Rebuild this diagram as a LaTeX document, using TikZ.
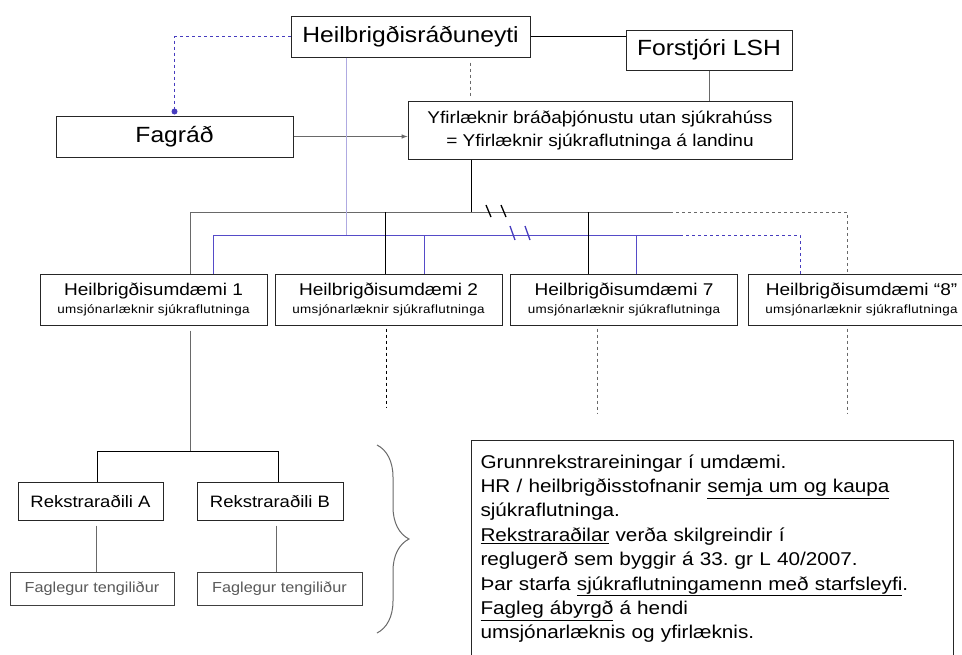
\documentclass[tikz,border=0pt]{standalone}
\usepackage{fontspec}
\setmainfont{Liberation Sans}[FakeStretch=1.12]
\usepackage{tikz}
\usetikzlibrary{positioning}
\usetikzlibrary{calc,arrows.meta,decorations.pathreplacing}
\definecolor{lavcol}{RGB}{175,170,225}
\definecolor{bluecol}{RGB}{85,75,200}
\definecolor{dashcol}{RGB}{70,60,190}
\definecolor{graycol}{RGB}{105,105,105}
\newcommand{\fsz}[2]{\fontsize{#1}{#2}\selectfont}
\newcommand{\undl}[1]{\underline{#1}}
\newcommand{\subtl}[1]{\fsz{12}{14}\addfontfeature{LetterSpace=3}#1}
\tikzset{>=latex}
\frenchspacing

\begin{document}
\begin{tikzpicture}[x=1pt, y=-1pt, line width=1pt,
    box/.style={draw=black!85, align=center, inner sep=0pt},
    distbox/.style={box, minimum width=227pt, minimum height=51pt},
    opbox/.style={box, minimum width=145pt, minimum height=38pt, font=\fsz{16.5}{19}},
    tenbox/.style={box, draw=black!75, text=black!65, minimum width=164pt, minimum height=33pt, font=\fsz{14.5}{17}}]
        \fill[white] (0,0) rectangle (962,654);
        \useasboundingbox (0,0) rectangle (962,654);

        % 1. Ministry, hospital director and the advisory board
        \node[box, minimum width=239pt, minimum height=41pt, font=\fsz{22}{26}] (heil) at (410.5,36.5) {Heilbrigðisráðuneyti};
        \node[box, minimum width=166pt, minimum height=40pt, font=\fsz{22}{26}] (fors) at (709,50) {Forstjóri LSH};
        \node[box, minimum width=237pt, minimum height=41pt, font=\fsz{22}{26}] (fag) at (174.5,136.5) {Fagráð};
        \node[box, minimum width=384pt, minimum height=58pt, font=\fsz{17}{23}] (yfir) at (600,130)
            {Yfirlæknir bráðaþjónustu utan sjúkrahúss\\ = Yfirlæknir sjúkraflutninga á landinu};

        \draw (heil.east) -- (heil.east -| fors.west);
        \draw[graycol] (fors.south) -- (fors.south |- yfir.north);
        \coordinate (hy) at (470,0);
        \draw[graycol, dashed, shorten <=5pt, shorten >=3pt] (hy |- heil.south) -- (hy |- yfir.north);
        \draw[dashcol, dashed, line width=0.8pt] (heil.west) -| ($(fag.north)+(0,-4)$) coordinate (fagdot);
        \fill[dashcol] (fagdot) circle (3pt);
        \draw[->, graycol] (fag.east) -- (fag.east -| yfir.west);

        % 2. The health districts
        \node[distbox] (d1) at (153.5,299.5) {\fsz{17}{20}Heilbrigðisumdæmi 1\\[4pt]\subtl{umsjónarlæknir sjúkraflutninga}};
        \node[distbox] (d2) at (388.5,299.5) {\fsz{17}{20}Heilbrigðisumdæmi 2\\[4pt]\subtl{umsjónarlæknir sjúkraflutninga}};
        \node[distbox] (d7) at (624,299.5) {\fsz{17}{20}Heilbrigðisumdæmi 7\\[4pt]\subtl{umsjónarlæknir sjúkraflutninga}};
        \node[distbox] (d8) at (861.5,299.5) {\fsz{17}{20}Heilbrigðisumdæmi “8”\\[4pt]\subtl{umsjónarlæknir sjúkraflutninga}};

        % 3. Gray and blue buses
        \coordinate (gL) at (190,212);
        \coordinate (gM) at (670,212);
        \coordinate (gR) at (847,212);
        \coordinate (bL) at (213,235);
        \coordinate (bM) at (680,235);
        \coordinate (bR) at (800,235);
        \draw[graycol] (gL |- d1.north) -- (gL) -- (gM);
        \draw[graycol, dashed, line width=0.8pt] (gM) -- (gR) -- (gR |- d8.north);
        \draw[bluecol] (bL |- d1.north) -- (bL) -- (bM);
        \draw[dashcol, dashed, line width=0.8pt] (bM) -- (bR) -- (bR |- d8.north);

        \coordinate (yt) at (471,212);
        \draw (yt |- yfir.south) -- (yt);
        \coordinate (lt) at (346,235);
        \draw[lavcol] (lt |- heil.south) -- (lt);
        \coordinate (t2) at (385,212);
        \coordinate (t7) at (588,212);
        \draw (t2) -- (t2 |- d2.north);
        \draw (t7) -- (t7 |- d7.north);
        \coordinate (u2) at (424,235);
        \coordinate (u7) at (636,235);
        \draw[bluecol] (u2) -- (u2 |- d2.north);
        \draw[bluecol] (u7) -- (u7 |- d7.north);

        % break marks
        \draw[line width=1.3pt] (486,205) -- (491,217);
        \draw[line width=1.3pt] (501,205) -- (506,217);
        \draw[dashcol, line width=1.3pt] (510,226) -- (515,240);
        \draw[dashcol, line width=1.3pt] (525,226) -- (530,240);

        % 4. Stubs below the districts
        \coordinate (s2) at (386,407);
        \coordinate (s7) at (597,413);
        \coordinate (s8) at (847,413);
        \draw[dashed, line width=0.8pt, shorten <=3pt] (s2 |- d2.south) -- (s2);
        \draw[graycol, dashed, line width=0.8pt, shorten <=3pt] (s7 |- d7.south) -- (s7);
        \draw[graycol, dashed, line width=0.8pt, shorten <=3pt] (s8 |- d8.south) -- (s8);

        % 5. Operators in district 1
        \node[opbox] (rA) at (90.5,501) {Rekstraraðili A};
        \node[opbox, minimum width=146pt] (rB) at (270,501) {Rekstraraðili B};
        \node[tenbox] (fA) at (92,588.5) {Faglegur tengiliður};
        \node[tenbox, minimum width=165pt] (fB) at (279.5,588.5) {Faglegur tengiliður};

        \coordinate (r1) at (190,451);
        \coordinate (ra) at (97,451);
        \coordinate (rb) at (278,451);
        \draw[graycol, shorten <=5pt] (r1 |- d1.south) -- (r1);
        \draw (ra |- rA.north) -- (ra) -- (rb) -- (rb |- rB.north);
        \coordinate (fa) at (96,0);
        \coordinate (fb) at (276,0);
        \draw[graycol, shorten <=5pt] (fa |- rA.south) -- (fa |- fA.north);
        \draw[graycol, shorten <=5pt] (fb |- rB.south) -- (fb |- fB.north);

        % 6. Brace and the note
        \draw[graycol, decorate, decoration={brace, amplitude=32pt}] (377,445) -- (377,633);
        \node[draw=black!85, anchor=north west, text width=464pt, inner xsep=9pt, inner ysep=14pt,
              align=left, font=\fsz{18.5}{24.4}] (note) at (471,440)
            {Grunnrekstrareiningar í umdæmi.\\
             HR / heilbrigðisstofnanir \undl{semja um og kaupa}\\
             sjúkraflutninga.\\
             \undl{Rekstraraðilar} verða skilgreindir í\\
             reglugerð sem byggir á 33. gr L 40/2007.\\
             Þar starfa \undl{sjúkraflutningamenn með starfsleyfi}.\\
             \undl{Fagleg ábyrgð} á hendi\\
             umsjónarlæknis og yfirlæknis.};
\end{tikzpicture}
\end{document}
